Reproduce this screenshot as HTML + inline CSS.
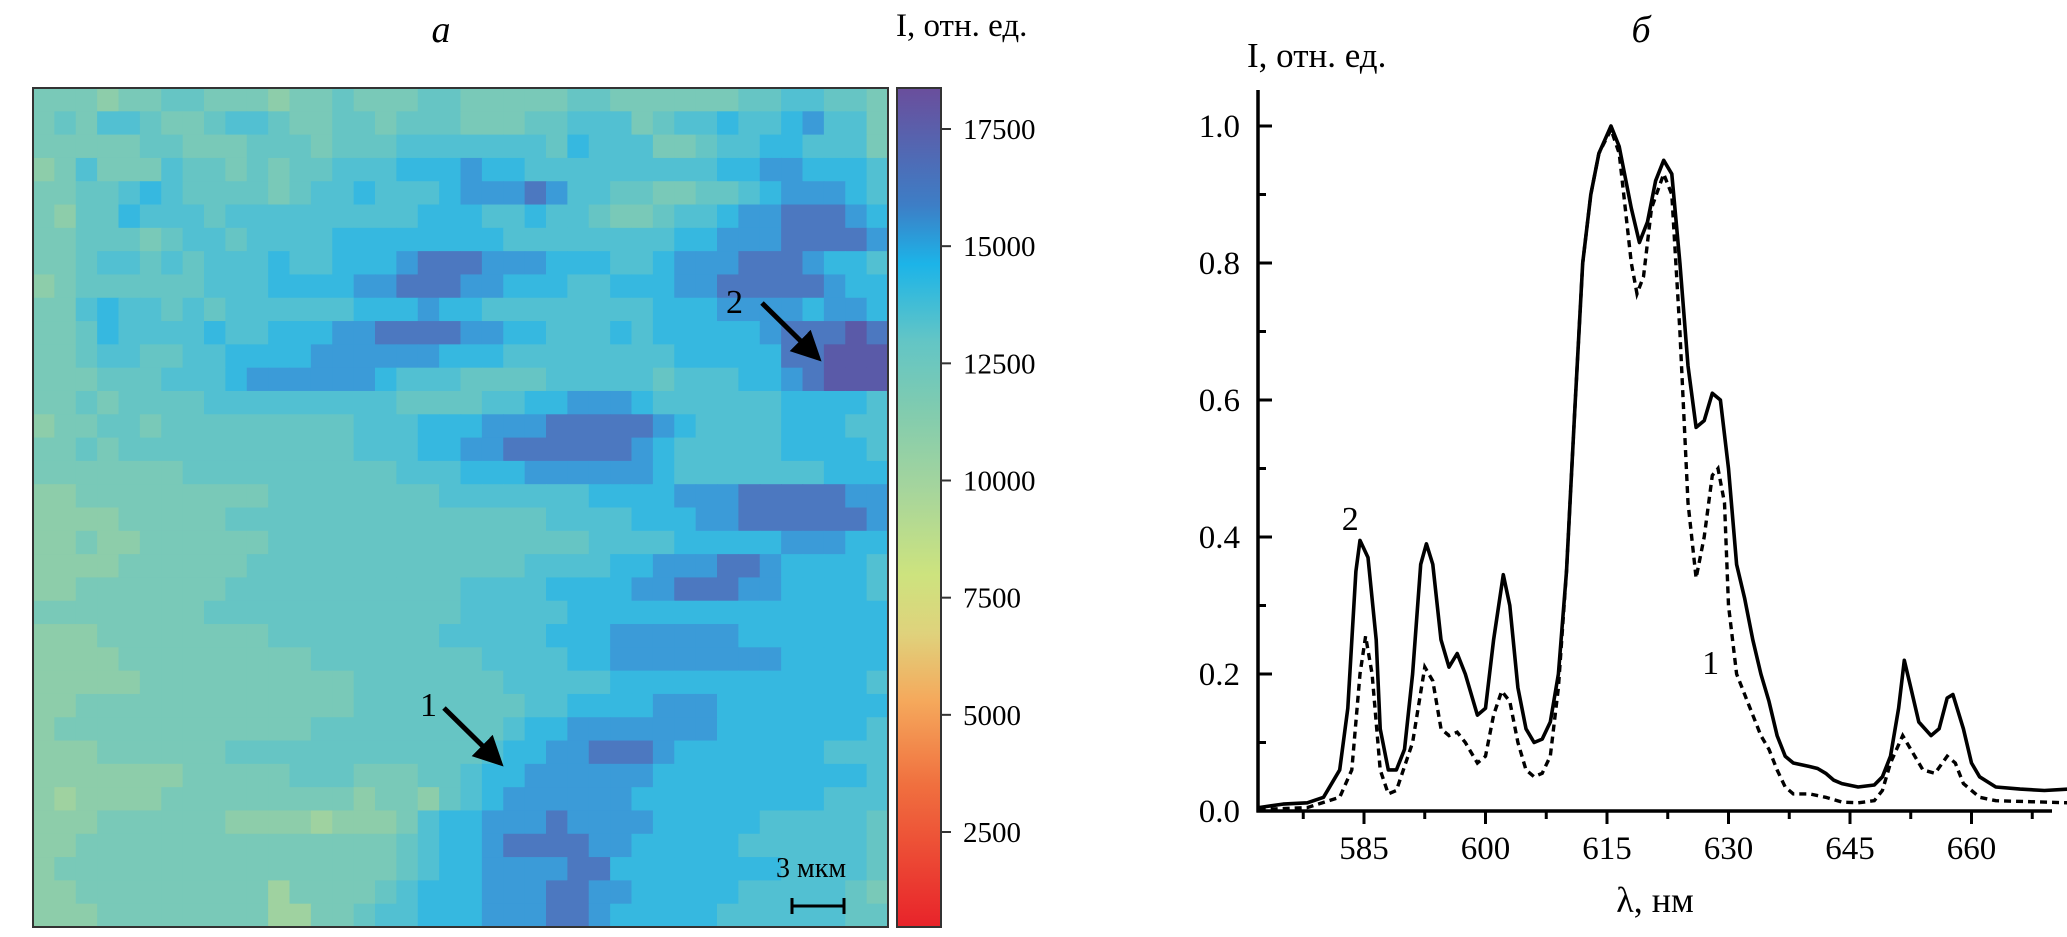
<!DOCTYPE html>
<html><head><meta charset="utf-8">
<style>
html,body{margin:0;padding:0;background:#fff;}
svg{display:block;font-family:"Liberation Serif","DejaVu Serif",serif;}
</style></head>
<body>
<svg id="fig" width="2067" height="937" viewBox="0 0 2067 937" xmlns="http://www.w3.org/2000/svg">
<defs>
<linearGradient id="cbar" x1="0" y1="1" x2="0" y2="0">
<stop offset="0" stop-color="#e8232a"/>
<stop offset="0.17" stop-color="#f0703f"/>
<stop offset="0.27" stop-color="#f5a95c"/>
<stop offset="0.35" stop-color="#dfd27c"/>
<stop offset="0.42" stop-color="#cde37e"/>
<stop offset="0.52" stop-color="#a6d59c"/>
<stop offset="0.62" stop-color="#7fcbb0"/>
<stop offset="0.70" stop-color="#62c5c6"/>
<stop offset="0.79" stop-color="#1cb4e8"/>
<stop offset="0.86" stop-color="#3d7ec6"/>
<stop offset="1" stop-color="#6a4e9c"/>
</linearGradient>
<marker id="ah" markerWidth="6" markerHeight="6" refX="5" refY="3" orient="auto" markerUnits="strokeWidth">
<path d="M0,0 L6,3 L0,6 Z" fill="#000"/>
</marker>
</defs>
<text x="441" y="42" font-size="38" font-style="italic" text-anchor="middle">a</text>
<text x="1641" y="42" font-size="38" font-style="italic" text-anchor="middle">б</text>
<g id="heat"></g>
<rect x="33" y="88" width="855" height="839" fill="none" stroke="#333" stroke-width="2"/>
<text x="420" y="716" font-size="34">1</text>
<line x1="444" y1="708" x2="500" y2="763" stroke="#000" stroke-width="5" marker-end="url(#ah)"/>
<text x="726" y="313" font-size="34">2</text>
<line x1="762" y1="303" x2="818" y2="358" stroke="#000" stroke-width="5" marker-end="url(#ah)"/>
<text x="776" y="877" font-size="28">3 мкм</text>
<g>
<line x1="792" y1="906" x2="844" y2="906" stroke="#000" stroke-width="3"/>
<line x1="792" y1="898" x2="792" y2="914" stroke="#000" stroke-width="3"/>
<line x1="844" y1="898" x2="844" y2="914" stroke="#000" stroke-width="3"/>
</g>
<rect x="897" y="88" width="44" height="839" fill="url(#cbar)" stroke="#333" stroke-width="2"/>
<text x="896" y="36" font-size="33">I, отн. ед.</text>
<g id="cbticks"></g>
<g id="spec"></g>
</svg>
<script>
const NS="http://www.w3.org/2000/svg";
// ---- heatmap data (intensity level codes, thousands = 8 + digit) ----
const heatRows=[
"3332334433323343334433333443333334455443",
"3435543345543344344433344555345565567553",
"3333344333444344455555554655533455665553",
"2353335443434455566676655555555566776665",
"3344565444434556555677787554433445677765",
"3244655545555555556665565543345567788876",
"3344434554555566666666555555556677788887",
"3345545455565566678887776665567778887665",
"2344444455566667788877666556667788888766",
"3356554545555556667665555555566677776776",
"3346555565566677888877665556566666788898",
"3345544556666777777666555555556666688999",
"3334445556777777655544445555545556678999",
"3343444455555555544445566777655555566665",
"2334434444444445556667778888876555566655",
"3343444444444445556677888888765555566665",
"3333333444444444455566677777765555555666",
"2233333333344444444555555566667778888877",
"2222333334444444444444445555666778888887",
"2232233333344444444444444455556666677766",
"2222333333444444444444455556677788766665",
"2233333334444444444455556666778887766665",
"3333333344444444444455555666666666666666",
"2223333333344444444555556667777776666666",
"2222333333333444444445555667777777766666",
"2222233333333334444444555556666666666665",
"2233333333333334444444455666677766666666",
"2333333333333444444444566777777766666665",
"2223333334444444444445667788876666666555",
"2222222333334443334456677777766666666665",
"2122223333333332332456777777666666666555",
"2223333332222122235667778777766666555554",
"2233333333333333345667888877666665555554",
"2333333333333333345667777886666666655554",
"2233333333313333456667778877666665555543",
"2223333333311334556667778876666655555544"];
const levelColors=["#b0d894","#9fd2a0","#8dcdaa","#79c9b8","#66c5c4","#52c0d2","#36b8e0","#3b9bd8","#4c78c0","#5a5aa8"];
const heat=document.getElementById('heat');
const HX=33,HY=88,HW=855,HH=839;
const nr=heatRows.length,nc=heatRows[0].length;
const cw=HW/nc,ch=HH/nr;
heatRows.forEach((row,r)=>{
  for(let c=0;c<nc;c++){
    const v=parseInt(row[c]);
    const rc=document.createElementNS(NS,'rect');
    rc.setAttribute('x',(HX+c*cw).toFixed(2));
    rc.setAttribute('y',(HY+r*ch).toFixed(2));
    rc.setAttribute('width',(cw+0.6).toFixed(2));
    rc.setAttribute('height',(ch+0.6).toFixed(2));
    rc.setAttribute('fill',levelColors[v]);
    
    
    heat.appendChild(rc);
  }
});
// ---- colorbar ticks ----
const cbTickVals=[2500,5000,7500,10000,12500,15000,17500];
const cbScale=v=>832-(v-2500)*(832-129)/15000;
const cbg=document.getElementById('cbticks');
cbTickVals.forEach(v=>{
  const y=cbScale(v);
  const l=document.createElementNS(NS,'line');
  l.setAttribute('x1',941);l.setAttribute('x2',951);l.setAttribute('y1',y);l.setAttribute('y2',y);
  l.setAttribute('stroke','#333');l.setAttribute('stroke-width',2);
  
  
  cbg.appendChild(l);
  const t=document.createElementNS(NS,'text');
  t.setAttribute('x',963);t.setAttribute('y',y+10);t.setAttribute('font-size',29);
  t.textContent=String(v);
  
  
  cbg.appendChild(t);
});
// ---- spectrum data ----
const wl2=[572,575,578,580,582,583,584,584.5,585.5,586.5,587,588,589,590,591,592,592.7,593.5,594.5,595.5,596.5,597.5,599,600,601,602.2,603,604,605,606,607,608,609,610,611,612,613,614,615.5,616.5,618,619,620,621,622,623,624,625,626,627,628,629,630,631,632,633,634,635,636,637,638,640,641,642,643,644,646,648,649,650,651,651.7,652.5,653.5,655,656,657,657.7,659,660,661,663,666,669,672];
const int2=[0.005,0.01,0.012,0.02,0.06,0.15,0.35,0.395,0.37,0.25,0.12,0.06,0.06,0.09,0.2,0.36,0.39,0.36,0.25,0.21,0.23,0.2,0.14,0.15,0.25,0.345,0.3,0.18,0.12,0.1,0.105,0.13,0.2,0.35,0.58,0.8,0.9,0.96,1.0,0.97,0.88,0.83,0.86,0.92,0.95,0.93,0.8,0.65,0.56,0.57,0.61,0.6,0.5,0.36,0.31,0.25,0.2,0.16,0.11,0.08,0.07,0.065,0.062,0.055,0.045,0.04,0.035,0.038,0.05,0.08,0.15,0.22,0.18,0.13,0.11,0.12,0.165,0.17,0.12,0.07,0.05,0.035,0.032,0.03,0.032];
const wl1=[572,578,582,583.5,584.5,585.2,586,587,588,589,591,592.5,593.5,594.5,595.5,596.5,597.5,599,600,601,602,603,604,605,606,607,608,609,610,611,612,613,614,615.5,616.5,618,618.7,619.5,620.5,622,623,624,625,626,627,628,628.7,629.5,630,631,632,633,634,635,636,637,638,640,642,644,646,648,649,650,651.5,652.5,654,655.5,657,658,659,661,663,672];
const int1=[0.002,0.005,0.02,0.06,0.2,0.255,0.2,0.06,0.025,0.03,0.1,0.21,0.19,0.12,0.11,0.115,0.1,0.07,0.08,0.14,0.175,0.16,0.1,0.06,0.05,0.055,0.08,0.18,0.35,0.58,0.8,0.9,0.96,0.995,0.96,0.8,0.755,0.78,0.88,0.93,0.9,0.7,0.45,0.34,0.4,0.49,0.5,0.45,0.3,0.2,0.17,0.14,0.11,0.09,0.06,0.035,0.025,0.025,0.02,0.013,0.012,0.015,0.03,0.07,0.11,0.09,0.06,0.055,0.08,0.07,0.04,0.02,0.015,0.012];
const xTickVals=[585,600,615,630,645,660];
const xMinorVals=[577.5,592.5,607.5,622.5,637.5,652.5,667.5];
const yTickVals=[0.0,0.2,0.4,0.6,0.8,1.0];
const yMinorVals=[0.1,0.3,0.5,0.7,0.9];
const X0=1258,X1=2052,Y0=811;
const xs=w=>1364+(w-585)*8.1;
const ys=v=>Y0-v*685;
const sp=document.getElementById('spec');
function mk(tag,attrs){
  const e=document.createElementNS(NS,tag);
  for(const k in attrs)e.setAttribute(k,attrs[k]);
  return e;
}
let ax=mk('line',{x1:X0,y1:90,x2:X0,y2:Y0+1.5,stroke:'#000','stroke-width':3.5});


sp.appendChild(ax);
ax=mk('line',{x1:X0-1.5,y1:Y0,x2:X1,y2:Y0,stroke:'#000','stroke-width':3.5});


sp.appendChild(ax);
xTickVals.forEach(v=>{
  const x=xs(v);
  const l=mk('line',{x1:x,x2:x,y1:Y0,y2:Y0+13,stroke:'#000','stroke-width':3});
  
  
  sp.appendChild(l);
  const t=mk('text',{x:x,y:Y0+48,'font-size':33,'text-anchor':'middle'});
  t.textContent=String(v);
  
  
  sp.appendChild(t);
});
xMinorVals.forEach(v=>{
  const x=xs(v);
  const l=mk('line',{x1:x,x2:x,y1:Y0,y2:Y0+8,stroke:'#000','stroke-width':3});
  
  
  sp.appendChild(l);
});
yTickVals.forEach(v=>{
  const y=ys(v);
  const l=mk('line',{x1:X0,x2:X0+14,y1:y,y2:y,stroke:'#000','stroke-width':3});
  
  
  sp.appendChild(l);
  const t=mk('text',{x:X0-18,y:y+11,'font-size':33,'text-anchor':'end'});
  t.textContent=v.toFixed(1);
  
  
  sp.appendChild(t);
});
yMinorVals.forEach(v=>{
  const y=ys(v);
  const l=mk('line',{x1:X0,x2:X0+8,y1:y,y2:y,stroke:'#000','stroke-width':3});
  
  
  sp.appendChild(l);
});
let t=mk('text',{x:1247,y:67,'font-size':35});
t.textContent='I, отн. ед.';


sp.appendChild(t);
t=mk('text',{x:1655,y:912,'font-size':36,'text-anchor':'middle'});
t.textContent='λ, нм';


sp.appendChild(t);
function path(wl,iv){
  return wl.map((w,i)=>(i?'L':'M')+xs(w).toFixed(1)+','+ys(iv[i]).toFixed(1)).join(' ');
}
let p=mk('path',{d:path(wl2,int2),fill:'none',stroke:'#000','stroke-width':3.6,'stroke-linejoin':'round'});


sp.appendChild(p);
p=mk('path',{d:path(wl1,int1),fill:'none',stroke:'#000','stroke-width':3.4,'stroke-dasharray':'7,5'});


sp.appendChild(p);
t=mk('text',{x:xs(583.3),y:ys(0.41),'font-size':34,'text-anchor':'middle'});
t.textContent='2';


sp.appendChild(t);
t=mk('text',{x:xs(627.8),y:ys(0.2),'font-size':34,'text-anchor':'middle'});
t.textContent='1';


sp.appendChild(t);
</script>
</body></html>
